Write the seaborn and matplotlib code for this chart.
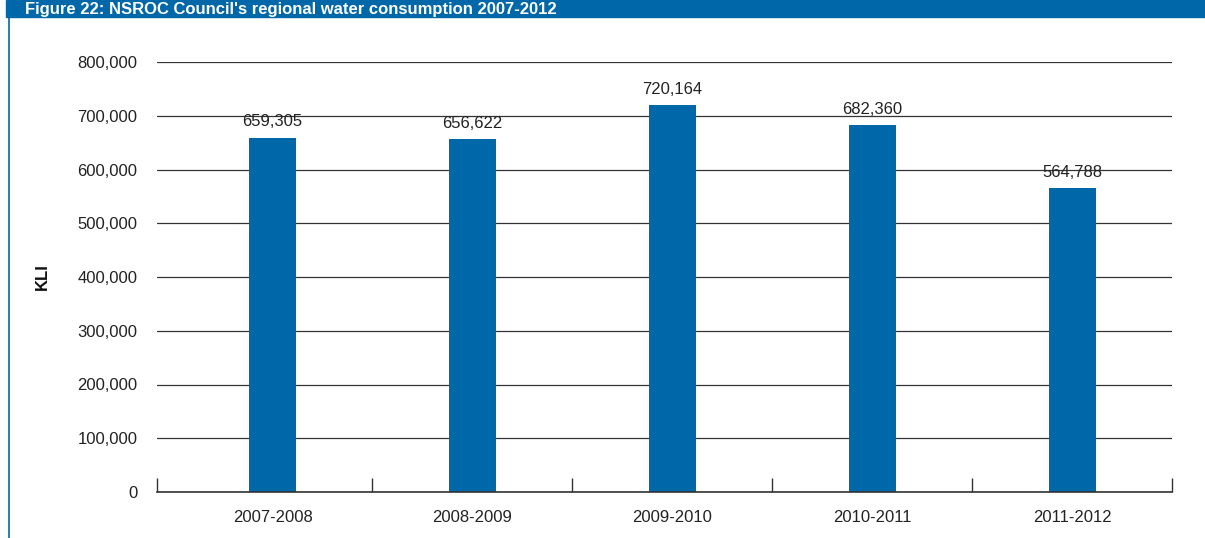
import matplotlib
matplotlib.use("Agg")
import matplotlib.pyplot as plt
from matplotlib.patches import Rectangle
from matplotlib.lines import Line2D
from matplotlib.ticker import FuncFormatter, FixedLocator
import pandas as pd
import seaborn as sns

# data
years = ["2007-2008", "2008-2009", "2009-2010", "2010-2011", "2011-2012"]
consumption = [659305, 656622, 720164, 682360, 564788]
title = "Figure 22: NSROC Council's regional water consumption 2007-2012"

blue = "#0067a9"

sns.set_theme(style="white")
plt.rcParams["font.family"] = ["Liberation Sans", "DejaVu Sans"]

df = pd.DataFrame({"year": years, "kl": consumption})

fig = plt.figure(figsize=(12.05, 5.38), dpi=100)
ax = fig.add_axes([157 / 1205, 1 - 492 / 538, (1172 - 157) / 1205, (492 - 62) / 538])

sns.barplot(data=df, x="year", y="kl", color=blue, saturation=1, width=0.235,
            edgecolor=blue, linewidth=0, ax=ax)

x0 = -0.578  # axis starts a little left of the first category
ax.set_ylim(0, 800000)
ax.set_xlim(x0, len(years) - 0.5)
ax.set_yticks(range(0, 800001, 100000))
ax.yaxis.set_major_formatter(FuncFormatter(lambda v, p: f"{int(v):,}"))
ax.grid(axis="y", color="#333333", linewidth=0.9)
ax.set_axisbelow(True)

for s in ["top", "right", "left"]:
    ax.spines[s].set_visible(False)
ax.spines["bottom"].set_color("#333333")
ax.spines["bottom"].set_linewidth(1.2)

# category boundary ticks pointing up
ax.xaxis.set_minor_locator(FixedLocator([x0] + [i + 0.5 for i in range(len(years))]))
ax.tick_params(axis="x", which="minor", direction="in", length=10, width=1, color="#333333", bottom=True)
ax.tick_params(axis="x", which="major", length=0, pad=13, labelsize=12, labelcolor="#222222")
ax.tick_params(axis="y", length=0, pad=14, labelsize=12, labelcolor="#222222")

ax.set_xlabel("")
ax.set_ylabel("KLI", fontsize=12, fontweight="bold", labelpad=20, color="#111111")

labels = [f"{v:,}" for v in consumption]
ax.bar_label(ax.containers[0], labels=labels, padding=6, fontsize=12, color="#222222")

# header band and frame line
fig.patches.append(Rectangle((6 / 1205, 1 - 17 / 538), 1, 17 / 538, transform=fig.transFigure,
                             color=blue, zorder=0))
fig.lines.append(Line2D([9 / 1205, 9 / 1205], [0, 1 - 17 / 538], transform=fig.transFigure,
                        color=blue, linewidth=1.2))
fig.text(25 / 1205, 1 - 14 / 538, title, color="white", fontsize=12, fontweight="bold",
         va="baseline", ha="left")

fig.savefig("out.png", dpi=100)
